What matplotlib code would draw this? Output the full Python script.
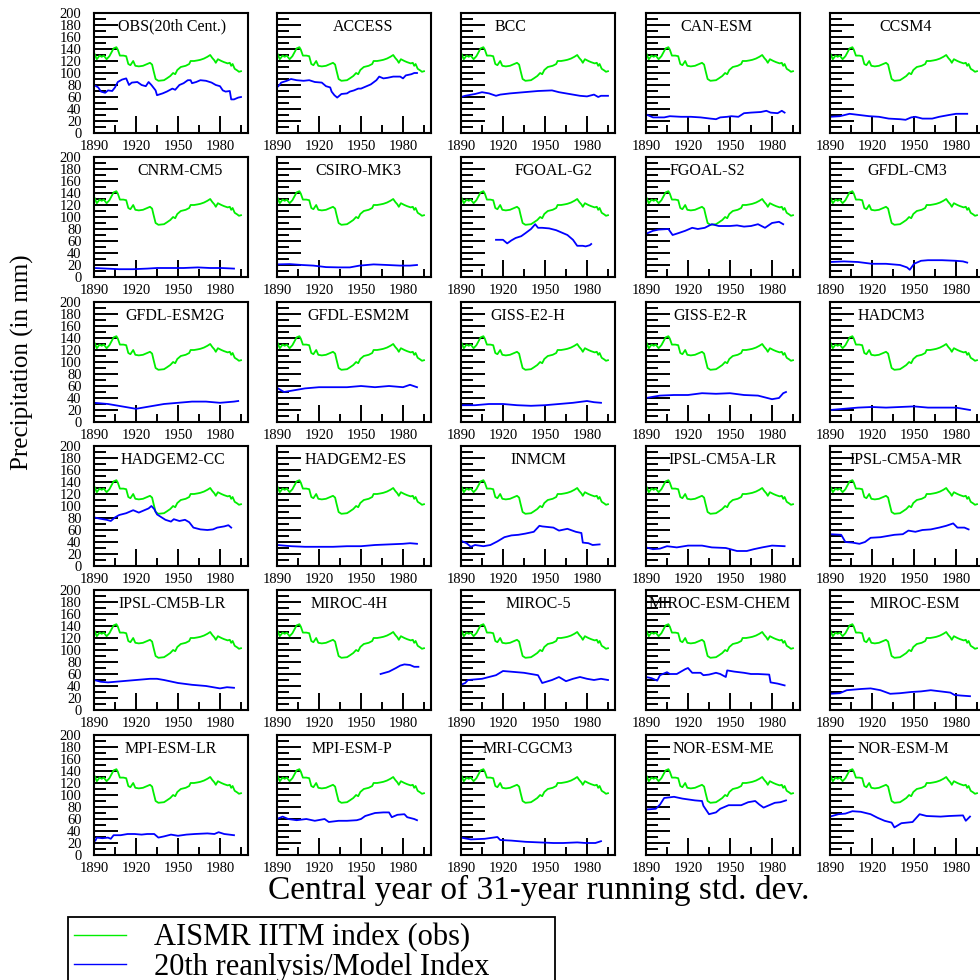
import matplotlib
matplotlib.use('Agg')
import matplotlib.pyplot as plt
from matplotlib.lines import Line2D

plt.rcParams['font.family'] = ['Liberation Serif', 'DejaVu Serif']

# AISMR IITM observed index (green, same in every panel)
aismr_yr = [1890, 1892, 1894, 1895.5, 1897, 1899, 1901, 1904, 1906, 1907, 1908.5, 1911, 1913,
            1914.5, 1916, 1918, 1919.5, 1922, 1925, 1928, 1930, 1931.5, 1932.5, 1934, 1936,
            1940, 1942, 1944.5, 1946.5, 1948, 1949.5, 1952, 1955.5, 1958, 1959, 1961.5, 1964,
            1966, 1968.5, 1971, 1973, 1974.5, 1976, 1977, 1978.5, 1981, 1983, 1985.5, 1987,
            1988, 1989, 1990.5, 1992.5, 1993.5, 1995]
aismr_val = [134, 123, 129, 127, 129, 123, 128, 141, 143, 139, 129, 129, 128,
             115, 113, 120, 112, 111, 112, 115, 117, 114, 104, 90, 87,
             88, 91, 95, 100, 98, 105, 110, 112, 115, 120, 120, 121,
             122, 124, 127, 130, 125, 121, 117, 123, 120, 118, 116, 117,
             112, 115, 107, 104, 102, 103]

# 20th reanalysis / model indices (blue)
obs20_yr = [1890, 1893, 1895, 1898, 1900, 1903, 1905, 1907, 1910, 1913, 1915, 1917, 1921, 1924,
            1927, 1929, 1931, 1934, 1935, 1939, 1942, 1946, 1948, 1951, 1954, 1957, 1959, 1960,
            1963, 1966, 1970, 1974, 1977, 1980, 1982, 1984, 1987, 1988, 1990, 1993, 1995]
obs20_val = [80, 76, 69, 67, 71, 70, 76, 85, 89, 91, 80, 84, 85, 80,
             78, 85, 80, 71, 63, 66, 69, 74, 72, 80, 83, 88, 88, 83,
             85, 88, 87, 84, 80, 78, 71, 69, 70, 56, 56, 59, 60]

access_yr = [1891, 1893, 1897, 1900, 1904, 1909, 1913, 1917, 1922, 1925, 1928, 1929, 1931, 1933,
             1936, 1940, 1942, 1945, 1948, 1950, 1954, 1957, 1961, 1963, 1966, 1969, 1973, 1978,
             1980, 1982, 1986, 1988, 1990]
access_val = [78, 84, 87, 90, 88, 87, 88, 85, 84, 78, 76, 69, 63, 59,
              65, 66, 69, 71, 74, 74, 78, 81, 88, 94, 91, 92, 94, 94,
              91, 96, 98, 100, 100]

bcc_yr = [1890, 1893, 1900, 1905, 1910, 1915, 1918, 1925, 1935, 1945, 1955, 1960, 1965, 1970,
          1975, 1980, 1985, 1988, 1990, 1995]
bcc_val = [60, 62, 65, 68, 66, 62, 64, 66, 68, 70, 71, 68, 66, 64, 62, 61, 64, 60, 62, 62]

canesm_yr = [1891, 1895, 1903, 1907, 1915, 1922, 1929, 1936, 1940, 1943, 1948, 1951, 1956, 1960,
             1965, 1972, 1976, 1979, 1984, 1987, 1989]
canesm_val = [30, 26, 26, 28, 27, 27, 26, 24, 23, 26, 27, 28, 27, 33, 34, 35, 37, 34, 33, 37, 34]

ccsm4_yr = [1890, 1897, 1904, 1911, 1918, 1925, 1932, 1940, 1944, 1948, 1951, 1956, 1963, 1968,
            1975, 1980, 1988]
ccsm4_val = [27, 28, 32, 30, 28, 27, 24, 23, 22, 26, 27, 24, 24, 27, 30, 32, 32]

cnrm_yr = [1890, 1899, 1908, 1918, 1928, 1935, 1945, 1954, 1964, 1973, 1981, 1990]
cnrm_val = [15, 14, 13, 13, 14, 15, 15, 15, 16, 15, 15, 14]

csiro_yr = [1890, 1899, 1908, 1916, 1925, 1935, 1942, 1949, 1959, 1969, 1978, 1985, 1990]
csiro_val = [21, 21.5, 20, 19, 16.5, 16, 16, 19, 21, 20, 19, 19, 20]

fgoalg2_yr = [1915, 1920, 1923, 1926, 1929, 1933, 1936, 1940, 1943, 1945, 1948, 1953, 1958, 1963,
              1966, 1970, 1973, 1977, 1979, 1982, 1983]
fgoalg2_val = [62, 62, 56, 61, 65, 68, 73, 80, 88, 82, 82, 81, 78, 73, 70, 62, 52, 52, 51, 53, 55]

fgoals2_yr = [1890, 1895, 1899, 1906, 1909, 1913, 1918, 1923, 1927, 1932, 1937, 1942, 1950, 1955,
              1960, 1965, 1970, 1975, 1980, 1985, 1988]
fgoals2_val = [72, 77, 79, 80, 70, 73, 77, 82, 80, 82, 88, 85, 85, 86, 84, 85, 88, 82, 90, 92, 88]

gfdlcm3_yr = [1890, 1900, 1910, 1920, 1930, 1940, 1945, 1947, 1950, 1955, 1960, 1970, 1980, 1985, 1988]
gfdlcm3_val = [25, 26, 25, 22, 22, 20, 16, 12, 22, 27, 28, 28, 27, 26, 24]

gfdlg_yr = [1890, 1900, 1910, 1920, 1930, 1940, 1950, 1960, 1970, 1980, 1990, 1993]
gfdlg_val = [32, 30, 26, 22, 26, 30, 32, 34, 34, 32, 34, 35]

gfdlm_yr = [1890, 1895, 1900, 1910, 1920, 1930, 1940, 1950, 1960, 1970, 1980, 1985, 1990]
gfdlm_val = [57, 50, 52, 56, 58, 58, 58, 60, 58, 60, 58, 62, 58]

gissh_yr = [1890, 1900, 1910, 1920, 1930, 1940, 1950, 1960, 1970, 1980, 1985, 1990]
gissh_val = [28, 28, 30, 30, 28, 27, 28, 30, 32, 35, 33, 32]

gissr_yr = [1890, 1900, 1910, 1920, 1930, 1940, 1950, 1960, 1970, 1980, 1985, 1988, 1990]
gissr_val = [40, 44, 45, 45, 48, 47, 48, 45, 44, 38, 40, 48, 50]

hadcm3_yr = [1890, 1900, 1910, 1920, 1930, 1940, 1950, 1960, 1970, 1980, 1985, 1990]
hadcm3_val = [20, 22, 24, 25, 24, 25, 26, 24, 24, 24, 22, 20]

hadcc_yr = [1890, 1894, 1899, 1902, 1905, 1908, 1913, 1918, 1922, 1925, 1929, 1931, 1933, 1935,
            1937, 1941, 1945, 1947, 1951, 1955, 1958, 1961, 1966, 1971, 1975, 1978, 1983, 1986, 1988]
hadcc_val = [81, 79, 77, 75, 81, 85, 88, 93, 89, 92, 96, 100, 95, 86,
             83, 77, 74, 78, 75, 77, 73, 64, 61, 60, 61, 64, 66, 68, 64]

hades_yr = [1890, 1900, 1910, 1920, 1930, 1940, 1950, 1960, 1970, 1980, 1985, 1990]
hades_val = [35, 33, 32, 32, 32, 33, 33, 35, 36, 37, 38, 37]

inmcm_yr = [1890, 1894, 1897, 1900, 1906, 1911, 1916, 1921, 1926, 1931, 1936, 1942, 1946, 1948,
            1956, 1960, 1966, 1972, 1976, 1977, 1981, 1984, 1989]
inmcm_val = [42, 38, 32, 35, 33, 35, 41, 48, 51, 52, 54, 57, 67, 66,
             64, 59, 62, 57, 55, 39, 38, 35, 36]

ipslalr_yr = [1890, 1895, 1900, 1905, 1912, 1920, 1930, 1937, 1947, 1955, 1962, 1967, 1973, 1980, 1989]
ipslalr_val = [31, 28, 29, 33, 31, 34, 34, 31, 30, 25, 25, 28, 31, 34, 33]

ipslamr_yr = [1890, 1898, 1901, 1906, 1911, 1915, 1919, 1926, 1931, 1936, 1942, 1946, 1951, 1956,
              1962, 1968, 1973, 1978, 1981, 1986, 1989]
ipslamr_val = [53, 52, 40, 39, 37, 40, 47, 48, 50, 52, 53, 59, 57, 60,
               61, 64, 67, 71, 64, 64, 61]

ipslblr_yr = [1890, 1895, 1900, 1910, 1920, 1930, 1935, 1940, 1950, 1960, 1970, 1975, 1980, 1985, 1990]
ipslblr_val = [50, 47, 46, 48, 50, 52, 52, 50, 45, 42, 40, 38, 36, 38, 37]

miroc4h_yr = [1964, 1967, 1970, 1975, 1978, 1981, 1985, 1988, 1991]
miroc4h_val = [60, 62, 64, 70, 74, 76, 75, 72, 72]

miroc5_yr = [1890, 1893, 1895, 1905, 1915, 1920, 1930, 1935, 1945, 1948, 1955, 1960, 1965, 1970,
             1975, 1980, 1985, 1990, 1995]
miroc5_val = [42, 45, 50, 52, 58, 65, 63, 62, 58, 45, 50, 55, 48, 52, 55, 52, 50, 52, 50]

mirocchem_yr = [1890, 1894, 1898, 1900, 1905, 1907, 1912, 1918, 1920, 1923, 1929, 1931, 1935, 1940,
                1943, 1947, 1948, 1953, 1960, 1965, 1970, 1978, 1979, 1984, 1989]
mirocchem_val = [55, 53, 49, 58, 63, 60, 60, 68, 70, 62, 62, 58, 59, 62,
                 60, 55, 66, 64, 62, 60, 60, 59, 46, 44, 41]

mirocesm_yr = [1890, 1897, 1902, 1912, 1919, 1926, 1933, 1940, 1948, 1955, 1962, 1969, 1976, 1979, 1984, 1990]
mirocesm_val = [27, 28, 33, 35, 36, 33, 27, 28, 30, 31, 33, 31, 29, 25, 24, 23]

mpilr_yr = [1891, 1892, 1896, 1900, 1902, 1904, 1909, 1914, 1919, 1924, 1928, 1933, 1936, 1940,
            1945, 1950, 1956, 1962, 1971, 1976, 1979, 1983, 1990]
mpilr_val = [24, 29, 28, 29, 27, 33, 33, 35, 35, 34, 35, 35, 29, 31,
             34, 32, 34, 35, 36, 35, 38, 35, 33]

mpip_yr = [1891, 1894, 1898, 1904, 1911, 1917, 1924, 1927, 1934, 1940, 1947, 1950, 1953, 1960,
           1966, 1970, 1972, 1976, 1981, 1983, 1988, 1990]
mpip_val = [61, 64, 60, 58, 60, 57, 60, 55, 57, 57, 58, 60, 65, 70, 71, 71, 63, 67, 68, 63, 60, 58]

mri_yr = [1890, 1897, 1907, 1916, 1918, 1926, 1936, 1946, 1956, 1963, 1973, 1979, 1986, 1990]
mri_val = [29, 26, 27, 30, 25, 24, 22, 21, 20, 20, 21, 20, 20, 23]

norme_yr = [1891, 1897, 1900, 1903, 1910, 1916, 1925, 1930, 1931, 1935, 1940, 1943, 1949, 1958,
            1963, 1968, 1971, 1974, 1978, 1982, 1986, 1990]
norme_val = [76, 77, 84, 95, 97, 94, 91, 90, 82, 68, 71, 77, 83, 83, 88, 90, 84, 79, 83, 87, 88, 91]

norm_yr = [1890, 1896, 1901, 1906, 1912, 1919, 1924, 1929, 1934, 1936, 1941, 1949, 1954, 1959,
           1969, 1975, 1985, 1987, 1990]
norm_val = [64, 68, 69, 73, 72, 68, 62, 57, 54, 46, 53, 55, 68, 65, 64, 65, 66, 57, 64]

# title, years, values, title x-position (axes fraction)
panels = [
    ('OBS(20th Cent.)', obs20_yr, obs20_val, 0.51),
    ('ACCESS', access_yr, access_val, 0.56),
    ('BCC', bcc_yr, bcc_val, 0.32),
    ('CAN-ESM', canesm_yr, canesm_val, 0.46),
    ('CCSM4', ccsm4_yr, ccsm4_val, 0.49),
    ('CNRM-CM5', cnrm_yr, cnrm_val, 0.56),
    ('CSIRO-MK3', csiro_yr, csiro_val, 0.53),
    ('FGOAL-G2', fgoalg2_yr, fgoalg2_val, 0.60),
    ('FGOAL-S2', fgoals2_yr, fgoals2_val, 0.40),
    ('GFDL-CM3', gfdlcm3_yr, gfdlcm3_val, 0.50),
    ('GFDL-ESM2G', gfdlg_yr, gfdlg_val, 0.53),
    ('GFDL-ESM2M', gfdlm_yr, gfdlm_val, 0.53),
    ('GISS-E2-H', gissh_yr, gissh_val, 0.435),
    ('GISS-E2-R', gissr_yr, gissr_val, 0.42),
    ('HADCM3', hadcm3_yr, hadcm3_val, 0.40),
    ('HADGEM2-CC', hadcc_yr, hadcc_val, 0.51),
    ('HADGEM2-ES', hades_yr, hades_val, 0.51),
    ('INMCM', inmcm_yr, inmcm_val, 0.50),
    ('IPSL-CM5A-LR', ipslalr_yr, ipslalr_val, 0.50),
    ('IPSL-CM5A-MR', ipslamr_yr, ipslamr_val, 0.49),
    ('IPSL-CM5B-LR', ipslblr_yr, ipslblr_val, 0.51),
    ('MIROC-4H', miroc4h_yr, miroc4h_val, 0.47),
    ('MIROC-5', miroc5_yr, miroc5_val, 0.50),
    ('MIROC-ESM-CHEM', mirocchem_yr, mirocchem_val, 0.48),
    ('MIROC-ESM', mirocesm_yr, mirocesm_val, 0.55),
    ('MPI-ESM-LR', mpilr_yr, mpilr_val, 0.50),
    ('MPI-ESM-P', mpip_yr, mpip_val, 0.49),
    ('MRI-CGCM3', mri_yr, mri_val, 0.435),
    ('NOR-ESM-ME', norme_yr, norme_val, 0.50),
    ('NOR-ESM-M', norm_yr, norm_val, 0.475),
]

green = '#00ee00'
blue = '#0000ff'

W = 980.0
col_left = [94, 277, 461, 646, 830]
row_top = [13, 157, 302, 446, 590, 735]
pw, ph = 154, 120

fig = plt.figure(figsize=(9.8, 9.8), dpi=100)

for i, (name, yr, val, tx) in enumerate(panels):
    r, c = divmod(i, 5)
    ax = fig.add_axes([col_left[c] / W, 1 - (row_top[r] + ph) / W, pw / W, ph / W])
    ax.plot(aismr_yr, aismr_val, color=green, lw=1.3)
    ax.plot(yr, val, color=blue, lw=1.3)
    ax.set_xlim(1890, 2000)
    ax.set_ylim(0, 200)
    ax.set_xticks([1890, 1920, 1950, 1980])
    ax.set_xticks([1905, 1935, 1965, 1995], minor=True)
    ax.set_yticks(range(0, 201, 20))
    ax.set_yticks(range(10, 200, 20), minor=True)
    ax.tick_params(axis='y', which='major', direction='in', length=17, width=1.4,
                   right=False, labelleft=(c == 0), labelsize=10.5, pad=9)
    ax.tick_params(axis='y', which='minor', direction='in', length=8.5, width=1.4, right=False)
    ax.tick_params(axis='x', which='major', direction='in', length=12, width=1.4,
                   top=False, labelsize=10.5, pad=5)
    ax.tick_params(axis='x', which='minor', direction='in', length=5.8, width=1.4, top=False)
    for s in ax.spines.values():
        s.set_linewidth(1.5)
    ax.text(tx, 0.853, name, transform=ax.transAxes, ha='center', va='baseline', fontsize=11.5)

fig.text(539 / W, 1 - 890 / W, 'Central year of 31-year running std. dev.',
         ha='center', va='center', fontsize=24)
fig.text(22 / W, 1 - 362 / W, 'Precipitation (in mm)', rotation=90,
         ha='center', va='center', fontsize=18)

handles = [Line2D([], [], color=green, lw=1.0), Line2D([], [], color=blue, lw=1.0)]
leg = fig.legend(handles, ['AISMR IITM index (obs)', '20th reanlysis/Model Index'],
                 loc='upper left', bbox_to_anchor=(68 / W, 1 - 917 / W - 0.1, 487 / W, 0.1),
                 mode='expand', fontsize=22, frameon=True, fancybox=False, edgecolor='black',
                 handlelength=1.7, handletextpad=0.9, borderpad=0.2, labelspacing=0.0,
                 borderaxespad=0)
leg.get_frame().set_linewidth(1.3)
leg.get_frame().set_alpha(1)

fig.savefig('out.png', dpi=100)
